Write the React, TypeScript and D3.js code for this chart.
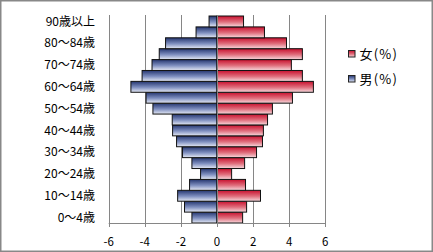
import React from "react";
import * as d3 from "d3";

const categories = [
  "0～4歳", "5～9歳", "10～14歳", "15～19歳", "20～24歳", "25～29歳", "30～34歳",
  "35～39歳", "40～44歳", "45～49歳", "50～54歳", "55～59歳", "60～64歳", "65～69歳",
  "70～74歳", "75～79歳", "80～84歳", "85～89歳", "90歳以上",
];
const male = [
  -1.39, -1.8, -2.18, -1.52, -0.91, -1.39, -1.91, -2.24, -2.46, -2.48,
  -3.55, -3.93, -4.77, -4.15, -3.6, -3.2, -2.85, -1.16, -0.44,
];
const female = [
  1.42, 1.64, 2.41, 1.58, 0.81, 1.53, 2.19, 2.52, 2.57, 2.8,
  3.07, 4.18, 5.34, 4.73, 4.12, 4.73, 3.85, 2.63, 1.47,
];
const xTicks = [-6, -4, -2, 0, 2, 4, 6];
const legendLabels = ["女(%)", "男(%)"];

const W = 433;
const H = 252;
const FONT = "'Noto Sans CJK JP', 'Noto Sans', sans-serif";

export default function App() {
  const x = d3.scaleLinear().domain([-6, 6]).range([108.7, 325.3]);
  const y = d3
    .scaleBand<string>()
    .domain([...categories].reverse())
    .range([16, 223])
    .paddingInner(0)
    .paddingOuter(0);
  const bw = y.bandwidth();
  const gridTop = 15;
  const axisY = 223;

  return (
    <svg
      width={W}
      height={H}
      style={{ position: "absolute", left: 0, top: 0, background: "#fff" }}
      fontFamily={FONT}
    >
      <defs>
        <linearGradient id="gMale" x1="0" y1="0" x2="0" y2="1">
          <stop offset="0%" stopColor="#24356f" />
          <stop offset="55%" stopColor="#8090c0" />
          <stop offset="100%" stopColor="#e6eaf5" />
        </linearGradient>
        <linearGradient id="gFemale" x1="0" y1="0" x2="0" y2="1">
          <stop offset="0%" stopColor="#c8102e" />
          <stop offset="55%" stopColor="#e0707e" />
          <stop offset="100%" stopColor="#f8dade" />
        </linearGradient>
      </defs>
      <rect x={0.75} y={0.75} width={W - 1.5} height={H - 1.5} fill="#fff" stroke="#888" strokeWidth={1.5} />

      {xTicks.map((t) => (
        <line
          key={"g" + t}
          x1={Math.round(x(t)) + 0.5}
          x2={Math.round(x(t)) + 0.5}
          y1={gridTop}
          y2={axisY}
          stroke="#868686"
          strokeWidth={1}
        />
      ))}

      {categories.map((c, i) => {
        const yy = y(c)!;
        return (
          <g key={c}>
            <rect
              x={x(male[i])}
              y={yy}
              width={x(0) - x(male[i])}
              height={bw}
              fill="url(#gMale)"
              stroke="#111"
              strokeWidth={1}
            />
            <rect
              x={x(0)}
              y={yy}
              width={x(female[i]) - x(0)}
              height={bw}
              fill="url(#gFemale)"
              stroke="#111"
              strokeWidth={1}
            />
          </g>
        );
      })}

      <line
        x1={Math.round(x(0)) + 0.5}
        x2={Math.round(x(0)) + 0.5}
        y1={gridTop}
        y2={axisY}
        stroke="#868686"
        strokeWidth={1}
      />

      <line x1={x(-6)} x2={x(6)} y1={axisY + 0.5} y2={axisY + 0.5} stroke="#868686" />
      {xTicks.map((t) => (
        <g key={"t" + t}>
          <line
            x1={Math.round(x(t)) + 0.5}
            x2={Math.round(x(t)) + 0.5}
            y1={axisY}
            y2={axisY + 4}
            stroke="#868686"
          />
          <text x={x(t)} y={246} fontSize={11.5} textAnchor="middle" fill="#000">
            {t}
          </text>
        </g>
      ))}

      {categories.map((c, i) =>
        i % 2 === 0 ? (
          <text
            key={"l" + c}
            x={95}
            y={y(c)! + bw / 2}
            dy="0.35em"
            fontSize={12}
            textAnchor="end"
            fill="#000"
          >
            {c}
          </text>
        ) : null
      )}

      {legendLabels.map((lab, i) => (
        <g key={lab} transform={`translate(348.5, ${50.5 + i * 25})`}>
          <rect x={0} y={0} width={6.5} height={6.5} fill={i === 0 ? "url(#gFemale)" : "url(#gMale)"} stroke="#222" strokeWidth={1} />
          <text x={11} y={3.5} dy="0.35em" fontSize={13} letterSpacing={1.2} fill="#000">
            {lab}
          </text>
        </g>
      ))}
    </svg>
  );
}
